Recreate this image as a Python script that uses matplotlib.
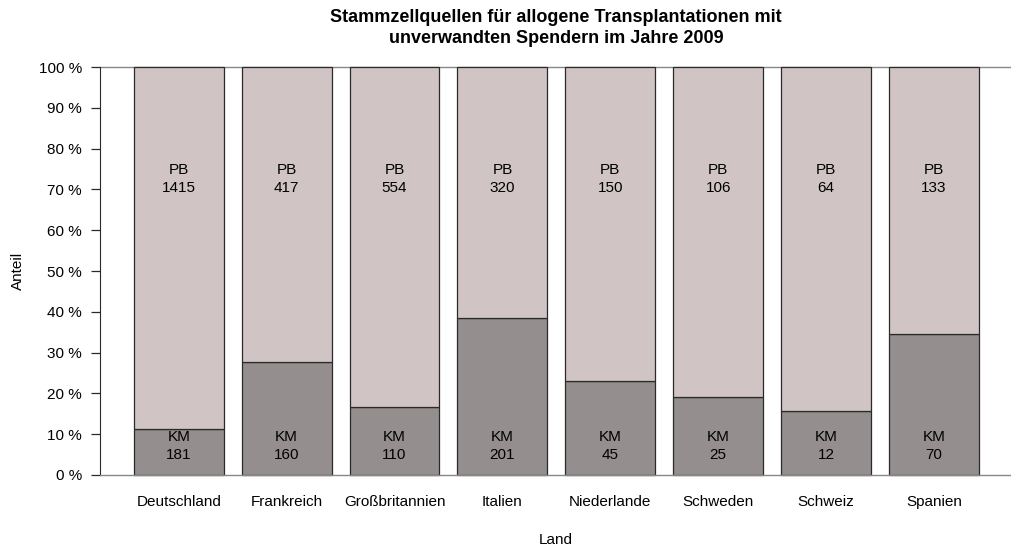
import matplotlib
matplotlib.use("Agg")
import matplotlib.pyplot as plt
import numpy as np

plt.rcParams['font.family'] = ['Liberation Sans', 'DejaVu Sans']

countries = ["Deutschland", "Frankreich", "Großbritannien", "Italien",
             "Niederlande", "Schweden", "Schweiz", "Spanien"]
km = [181, 160, 110, 201, 45, 25, 12, 70]
pb = [1415, 417, 554, 320, 150, 106, 64, 133]

km_a = np.array(km, dtype=float)
pb_a = np.array(pb, dtype=float)
tot = km_a + pb_a
km_f = km_a / tot
pb_f = pb_a / tot

W, H = 1011, 549
fig = plt.figure(figsize=(W / 100, H / 100), dpi=100)
left, right = 100, 1011
top, bottom = 50.7, 491.3
ax = fig.add_axes([left / W, 1 - bottom / H, (right - left) / W, (bottom - top) / H])

FS = 11
x = 0.7 + 1.2 * np.arange(len(countries))
col_km = "#948F8E"
col_pb = "#D0C4C4"
ax.bar(x, km_f, width=1.0, color=col_km, edgecolor="#2a2a2a", linewidth=0.9, zorder=2)
ax.bar(x, pb_f, width=1.0, bottom=km_f, color=col_pb, edgecolor="#2a2a2a", linewidth=0.9, zorder=2)
ax.axhline(0, color="#888888", linewidth=1.0, zorder=3)
ax.axhline(1, color="#888888", linewidth=1.0, zorder=1)

for xi, k, p in zip(x, km, pb):
    ax.text(xi, 0.071, f"KM\n{k}", ha="center", va="center", fontsize=FS,
            linespacing=1.4, zorder=4)
    ax.text(xi, 0.7255, f"PB\n{p}", ha="center", va="center", fontsize=FS,
            linespacing=1.4, zorder=4)

ax.set_xlim(-0.176, -0.176 + (right - left) / 89.9)
ax.set_ylim(-0.04, 1.04)
for s in ["top", "right", "bottom"]:
    ax.spines[s].set_visible(False)
ax.spines["left"].set_bounds(0, 1)
ax.spines["left"].set_color("#2a2a2a")
yt = np.linspace(0, 1, 11)
ax.set_yticks(yt)
ax.set_yticklabels([f"{int(round(v*100))} %" for v in yt], fontsize=FS)
ax.tick_params(axis="y", length=6.5, width=0.9, color="#2a2a2a", pad=6.5)
ax.set_xticks(x)
ax.set_xticklabels(countries, fontsize=FS)
ax.tick_params(axis="x", length=0, pad=3)

fig.text(18 / W, 1 - 271 / H, "Anteil", rotation=90, ha="center", va="center", fontsize=FS)
fig.text(556 / W, 1 - 540 / H, "Land", ha="center", va="center", fontsize=FS)
fig.text(556 / W, 1 - 28 / H, "Stammzellquellen für allogene Transplantationen mit\nunverwandten Spendern im Jahre 2009",
         ha="center", va="center", fontsize=13, fontweight="bold", linespacing=1.25)

fig.savefig("out.png", dpi=100)
